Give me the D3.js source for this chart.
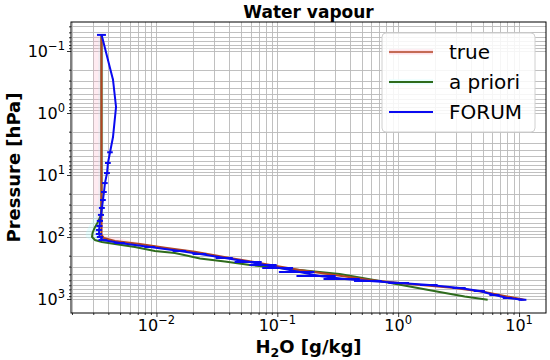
<!DOCTYPE html>
<html><head><meta charset="utf-8">
<script src="https://cdn.jsdelivr.net/npm/d3@7"></script>
<style>body{margin:0;background:#fff}svg{display:block}text{font-family:"DejaVu Sans",sans-serif}</style>
</head><body><svg id="c" width="550" height="360"></svg>
<script>
// ---- data ----
const xTicks = [0.01, 0.1, 1, 10];
const xTickExp = ["−2", "−1", "0", "1"];
const yTicks = [0.1, 1, 10, 100, 1000];
const yTickExp = ["−1", "0", "1", "2", "3"];
const seriesNames = ["true", "a priori", "FORUM"];

const trueP  = [0.056, 30, 93, 104, 116, 130, 150, 174, 218, 272, 340, 410, 494, 574, 664, 770, 893, 1030];
const trueV  = [0.00351, 0.00351, 0.00351, 0.00368, 0.00454, 0.0073, 0.0118, 0.0208, 0.0405, 0.0788, 0.153, 0.298, 0.581, 1.245, 2.93, 5.19, 7.59, 11.1];
const trueLo = [0.0030, 0.0030, 0.0034, 0.0036, 0.0043, 0.0068, 0.011, 0.0195, 0.038, 0.075, 0.146, 0.285, 0.555, 1.19, 2.8, 4.95, 7.25, 10.6];
const trueHi = [0.00352, 0.00352, 0.00352, 0.0048, 0.0062, 0.0085, 0.0128, 0.022, 0.0425, 0.082, 0.16, 0.31, 0.61, 1.3, 3.06, 5.43, 7.95, 11.6];

const aprP  = [0.056, 25, 44, 57, 72, 86, 100, 112, 120, 130, 145, 168, 181, 222, 248, 283, 340, 395, 513, 628, 771, 912, 1030];
const aprV  = [0.00351, 0.00351, 0.00348, 0.00328, 0.00307, 0.00296, 0.00293, 0.00310, 0.00354, 0.00454, 0.00664, 0.0097, 0.0142, 0.0229, 0.0368, 0.0593, 0.153, 0.328, 0.703, 1.245, 2.2, 3.55, 5.5];
const aprLo = [0.0033, 0.0033, 0.0031, 0.0029, 0.0027, 0.0026, 0.0026, 0.0028, 0.0032, 0.0041, 0.006, 0.0088, 0.0129, 0.021, 0.0335, 0.054, 0.14, 0.30, 0.64, 1.13, 2.0, 3.23, 5.0];
const aprHi = [0.0037, 0.0037, 0.0037, 0.0036, 0.0034, 0.0033, 0.0033, 0.0034, 0.0039, 0.005, 0.0073, 0.0107, 0.0156, 0.025, 0.0405, 0.065, 0.168, 0.36, 0.77, 1.37, 2.42, 3.9, 6.05];

const forumP   = [0.055, 0.14, 0.29, 0.80, 2.44, 4.3, 6.4, 9.3, 13.5, 18.8, 25.3, 34, 44, 55, 66.5, 77, 89.5, 100, 112, 125, 145, 168, 188, 218, 253, 283, 316, 367, 426, 476, 512, 552, 595, 664, 744, 862, 963, 1030];
const forumV   = [0.00352, 0.00397, 0.00437, 0.00463, 0.00437, 0.00413, 0.00397, 0.00390, 0.00375, 0.00368, 0.00361, 0.00354, 0.00348, 0.00341, 0.00338, 0.00335, 0.00335, 0.00341, 0.00361, 0.00499, 0.00884, 0.0156, 0.0229, 0.0368, 0.0593, 0.0788, 0.105, 0.153, 0.224, 0.361, 0.581, 1.03, 1.82, 3.22, 4.72, 6.28, 8.04, 10.7];
const forumErr = [0.0003, 0.00005, 0.00005, 0.00005, 0.00005, 0.00022, 0.00022, 0.00022, 0.0002, 0.0002, 0.0002, 0.0002, 0.0002, 0.0002, 0.0002, 0.0002, 0.0002, 0.0002, 0.0003, 0.0005, 0.0009, 0.002, 0.003, 0.006, 0.015, 0.02, 0.03, 0.05, 0.08, 0.12, 0.15, 0.2, 0.3, 0.4, 0.5, 0.6, 0.7, 0.8];

// ---- layout ----
const L = 71, R = 546, T = 22, B = 313;
const svg = d3.select("#c");
const x = d3.scaleLog().domain([Math.pow(10, -2.707), Math.pow(10, 1.223)]).range([L, R]);
const y = d3.scaleLog().domain([Math.pow(10, -1.468), Math.pow(10, 3.226)]).range([T, B]);

const colTrue = "#b04424", colApr = "#2f6b1c", colForum = "#0a0af0";

function logVals(dom) {
  const out = [];
  for (let k = -4; k <= 4; k++) for (let m = 1; m <= 9; m++) {
    const v = m * Math.pow(10, k);
    if (v >= dom[0] && v <= dom[1]) out.push(v);
  }
  return out;
}
const xAll = logVals(x.domain()), yAll = logVals(y.domain());

svg.append("defs").append("clipPath").attr("id", "clip")
  .append("rect").attr("x", L).attr("y", T).attr("width", R - L).attr("height", B - T);

// grid
const grid = svg.append("g").attr("stroke", "#b9b9b9").attr("stroke-width", 0.9);
grid.selectAll(".gx").data(xAll).join("line")
  .attr("x1", d => Math.round(x(d)) + 0.5).attr("x2", d => Math.round(x(d)) + 0.5).attr("y1", T).attr("y2", B);
grid.selectAll(".gy").data(yAll).join("line")
  .attr("y1", d => Math.round(y(d)) + 0.5).attr("y2", d => Math.round(y(d)) + 0.5).attr("x1", L).attr("x2", R);

const plot = svg.append("g").attr("clip-path", "url(#clip)");

// bands
const band = (P, lo, hi) => d3.area().curve(d3.curveLinear)
  .y((d, i) => y(P[i])).x0((d, i) => x(lo[i])).x1((d, i) => x(hi[i]))(P);
plot.append("path").attr("d", band(aprP, aprLo, aprHi)).attr("fill", "#b8ffff").attr("fill-opacity", 0.3);
plot.append("path").attr("d", band(trueP, trueLo, trueHi)).attr("fill", "#ffb0c8").attr("fill-opacity", 0.25);

const line = (P, V) => d3.line().x((d, i) => x(V[i])).y((d, i) => y(P[i]))(P);
plot.append("path").attr("d", line(aprP, aprV)).attr("fill", "none").attr("stroke", colApr).attr("stroke-width", 2);
plot.append("path").attr("d", line(trueP, trueV)).attr("fill", "none").attr("stroke", colTrue).attr("stroke-width", 2.1);
plot.append("path").attr("d", line(forumP, forumV)).attr("fill", "none").attr("stroke", colForum).attr("stroke-width", 2);
plot.selectAll(".eb").data(forumP).join("line")
  .attr("x1", (d, i) => x(forumV[i] - forumErr[i])).attr("x2", (d, i) => x(forumV[i] + forumErr[i]))
  .attr("y1", d => y(d)).attr("y2", d => y(d))
  .attr("stroke", colForum).attr("stroke-width", 2);

// frame
svg.append("rect").attr("x", L).attr("y", T).attr("width", R - L).attr("height", B - T)
  .attr("fill", "none").attr("stroke", "#000").attr("stroke-width", 1);

// axes (ticks)
const xMinor = xAll.filter(v => !xTicks.includes(v));
const yMinor = yAll.filter(v => !yTicks.includes(v));
const ax = svg.append("g").attr("transform", `translate(0,${B})`);
ax.call(d3.axisBottom(x).tickValues(xTicks).tickSize(4).tickFormat(""));
ax.append("g").call(d3.axisBottom(x).tickValues(xMinor).tickSize(2).tickFormat(""));
const ay = svg.append("g").attr("transform", `translate(${L},0)`);
ay.call(d3.axisLeft(y).tickValues(yTicks).tickSize(4).tickFormat(""));
ay.append("g").call(d3.axisLeft(y).tickValues(yMinor).tickSize(2).tickFormat(""));
svg.selectAll(".domain").remove();
svg.selectAll(".tick line").attr("stroke", "#000").attr("stroke-width", 0.8);

// tick labels
xTicks.forEach((v, i) => {
  const t = svg.append("text").attr("x", x(v)).attr("y", 331).attr("text-anchor", "middle")
    .attr("font-size", 16).attr("fill", "#000");
  t.append("tspan").text("10");
  t.append("tspan").attr("dy", -7).attr("font-size", 11.5).text(xTickExp[i]);
});
yTicks.forEach((v, i) => {
  const t = svg.append("text").attr("x", 65).attr("y", y(v) + 6).attr("text-anchor", "end")
    .attr("font-size", 16).attr("fill", "#000");
  t.append("tspan").text("10");
  t.append("tspan").attr("dy", -7).attr("font-size", 11.5).text(yTickExp[i]);
});

// labels
svg.append("text").attr("x", (L + R) / 2).attr("y", 18).attr("text-anchor", "middle")
  .attr("font-size", 17).attr("font-weight", "bold").text("Water vapour");
const xl = svg.append("text").attr("x", (L + R) / 2).attr("y", 353).attr("text-anchor", "middle")
  .attr("font-size", 18).attr("font-weight", "bold");
xl.append("tspan").text("H");
xl.append("tspan").attr("font-size", 12.5).attr("dy", 4).text("2");
xl.append("tspan").attr("dy", -4).text("O [g/kg]");
svg.append("text").attr("transform", `translate(20,${(T + B) / 2}) rotate(-90)`).attr("text-anchor", "middle")
  .attr("font-size", 18).attr("font-weight", "bold").text("Pressure [hPa]");

// legend
const lg = svg.append("g");
lg.append("rect").attr("x", 382).attr("y", 33).attr("width", 153).attr("height", 99).attr("rx", 4)
  .attr("fill", "#fff").attr("fill-opacity", 0.85).attr("stroke", "#d0d0d0").attr("stroke-width", 1);
const lcols = [colTrue, colApr, colForum], lbands = ["#ffe0e8", "#e6ffff", null];
seriesNames.forEach((n, i) => {
  const yy = 52 + i * 30;
  if (lbands[i]) lg.append("rect").attr("x", 389).attr("y", yy - 2.5).attr("width", 44).attr("height", 5).attr("fill", lbands[i]);
  lg.append("line").attr("x1", 389).attr("x2", 433).attr("y1", yy).attr("y2", yy)
    .attr("stroke", lcols[i]).attr("stroke-width", i === 0 ? 1.6 : 2);
  lg.append("text").attr("x", 449).attr("y", yy + 7).attr("font-size", 20).text(n);
});
</script></body></html>
